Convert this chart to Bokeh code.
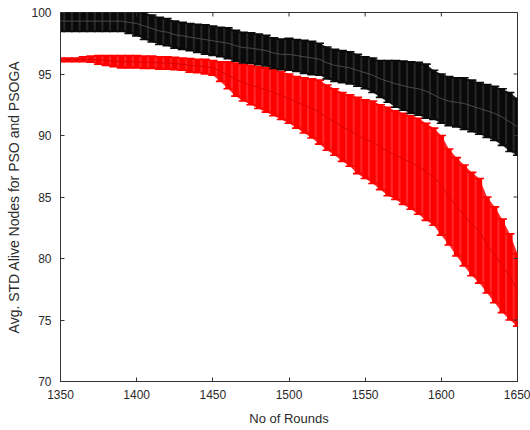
import math
from bokeh.plotting import figure
from bokeh.models import ColumnDataSource, Range1d, FixedTicker
from bokeh.embed import file_html
from bokeh.resources import INLINE

rounds = list(range(1350, 1651, 5))

pso_mean = [99.3, 99.3, 99.3, 99.3, 99.3, 99.3, 99.3, 99.3, 99.3, 99.2,
            99.1, 98.9, 98.7, 98.5, 98.4, 98.2, 98.1, 98.0, 97.9, 97.8,
            97.7, 97.6, 97.5, 97.3, 97.15, 97.1, 97.0, 96.9, 96.7, 96.6,
            96.6, 96.5, 96.4, 96.3, 96.2, 95.9, 95.7, 95.6, 95.5, 95.3,
            95.1, 94.9, 94.6, 94.4, 94.2, 94.05, 93.9, 93.8, 93.6, 93.3,
            93.0, 92.8, 92.7, 92.6, 92.4, 92.2, 92.0, 91.8, 91.5, 91.1,
            90.7]
pso_std = [0.85, 0.85, 0.85, 0.85, 0.85, 0.85, 0.85, 0.85, 0.85, 0.9,
           1.0, 1.1, 1.1, 1.1, 1.1, 1.1, 1.1, 1.1, 1.15, 1.2,
           1.2, 1.2, 1.25, 1.25, 1.25, 1.25, 1.25, 1.25, 1.25, 1.25,
           1.3, 1.3, 1.35, 1.35, 1.3, 1.3, 1.3, 1.3, 1.3, 1.3,
           1.3, 1.4, 1.5, 1.7, 1.9, 2.0, 2.1, 2.15, 2.2, 2.0,
           2.0, 2.0, 2.0, 2.1, 2.1, 2.1, 2.15, 2.2, 2.3, 2.4,
           2.3]

psoga_mean = [96.15, 96.15, 96.15, 96.2, 96.2, 96.15, 96.1, 96.05, 96.0, 96.0,
              96.0, 95.95, 95.95, 95.9, 95.9, 95.85, 95.8, 95.7, 95.65, 95.6,
              95.5, 95.2, 94.9, 94.55, 94.3, 94.1, 93.9, 93.7, 93.5, 93.25,
              93.0, 92.7, 92.45, 92.2, 91.9, 91.45, 91.1, 90.7, 90.4, 90.0,
              89.7, 89.45, 89.05, 88.7, 88.4, 88.1, 87.8, 87.5, 87.05, 86.65,
              85.95, 85.0, 84.2, 83.5, 82.8, 82.25, 81.1, 80.3, 79.4, 78.5,
              77.45]
psoga_std = [0.15, 0.15, 0.15, 0.2, 0.25, 0.35, 0.4, 0.45, 0.5, 0.5,
             0.5, 0.5, 0.5, 0.5, 0.5, 0.5, 0.5, 0.55, 0.55, 0.6,
             0.6, 0.8, 1.1, 1.35, 1.5, 1.6, 1.7, 1.8, 1.9, 1.95,
             2.0, 2.1, 2.25, 2.4, 2.6, 2.65, 2.7, 2.8, 2.9, 3.1,
             3.2, 3.35, 3.45, 3.6, 3.6, 3.7, 3.8, 3.9, 3.95, 3.95,
             4.05, 3.9, 4.0, 4.1, 4.2, 4.25, 3.9, 3.9, 3.8, 3.5,
             2.95]

x_ticks = [1350, 1400, 1450, 1500, 1550, 1600, 1650]
y_ticks = [70, 75, 80, 85, 90, 95, 100]
x_title = "No of Rounds"
y_title = "Avg. STD Alive Nodes for PSO and PSOGA"

FONT = "Liberation Sans"
CAP = 3.0  # half cap width in data units (MATLAB: range/100)
AXC = "#333333"


def make_source(mean, std):
    lo = [m - s for m, s in zip(mean, std)]
    hi = [m + s for m, s in zip(mean, std)]
    return ColumnDataSource(dict(
        x=rounds, mean=mean, lo=lo, hi=hi,
        xl=[r - CAP for r in rounds], xr=[r + CAP for r in rounds]))


p = figure(width=530, height=430, output_backend="svg", toolbar_location=None,
           x_range=Range1d(x_ticks[0], x_ticks[-1]),
           y_range=Range1d(y_ticks[0], y_ticks[-1]),
           min_border_left=60, min_border_right=13, min_border_top=12,
           min_border_bottom=49)
p.grid.visible = False
p.outline_line_color = AXC
p.background_fill_color = "white"
p.border_fill_color = "white"


def draw(src, bar_color, seam_color, mean_color):
    p.varea(x="x", y1="lo", y2="hi", source=src, fill_color=seam_color)
    p.segment(x0="x", y0="lo", x1="x", y1="hi", source=src,
              line_color=bar_color, line_width=5.5)
    p.segment(x0="xl", y0="hi", x1="xr", y1="hi", source=src,
              line_color=bar_color, line_width=1.6)
    p.segment(x0="xl", y0="lo", x1="xr", y1="lo", source=src,
              line_color=bar_color, line_width=1.6)
    p.line(x="x", y="mean", source=src, line_color=mean_color, line_width=1)


draw(make_source(psoga_mean, psoga_std), "#ff0000", "#ff2626", "#dd0000")
draw(make_source(pso_mean, pso_std), "#0a0a0a", "#262626", "#4a4a4a")

# MATLAB-style box ticks on top and right edges (clipped to the frame)
p.scatter(x=x_ticks, y=[p.y_range.end] * len(x_ticks), marker="dash",
          angle=math.pi / 2, size=8, line_color=AXC, line_width=1)
p.scatter(x=[p.x_range.end] * len(y_ticks), y=y_ticks, marker="dash",
          size=8, line_color=AXC, line_width=1)

for ax in (p.xaxis[0], p.yaxis[0]):
    ax.major_tick_in = 4
    ax.major_tick_out = 0
    ax.minor_tick_in = 0
    ax.minor_tick_out = 0
    ax.axis_line_color = AXC
    ax.major_tick_line_color = AXC
    ax.major_label_text_font = FONT
    ax.major_label_text_font_size = "12px"
    ax.major_label_text_color = "#2a2a2a"
    ax.axis_label_text_font = FONT
    ax.axis_label_text_font_style = "normal"
    ax.axis_label_text_color = "#2a2a2a"

p.xaxis[0].ticker = FixedTicker(ticks=x_ticks)
p.yaxis[0].ticker = FixedTicker(ticks=y_ticks)
p.xaxis[0].axis_label = x_title
p.yaxis[0].axis_label = y_title
p.xaxis[0].axis_label_text_font_size = "13px"
p.yaxis[0].axis_label_text_font_size = "14px"
p.xaxis[0].major_label_standoff = 8
p.yaxis[0].major_label_standoff = 9
p.xaxis[0].axis_label_standoff = 9
p.yaxis[0].axis_label_standoff = 6

open("out.html", "w").write(file_html(p, INLINE))
